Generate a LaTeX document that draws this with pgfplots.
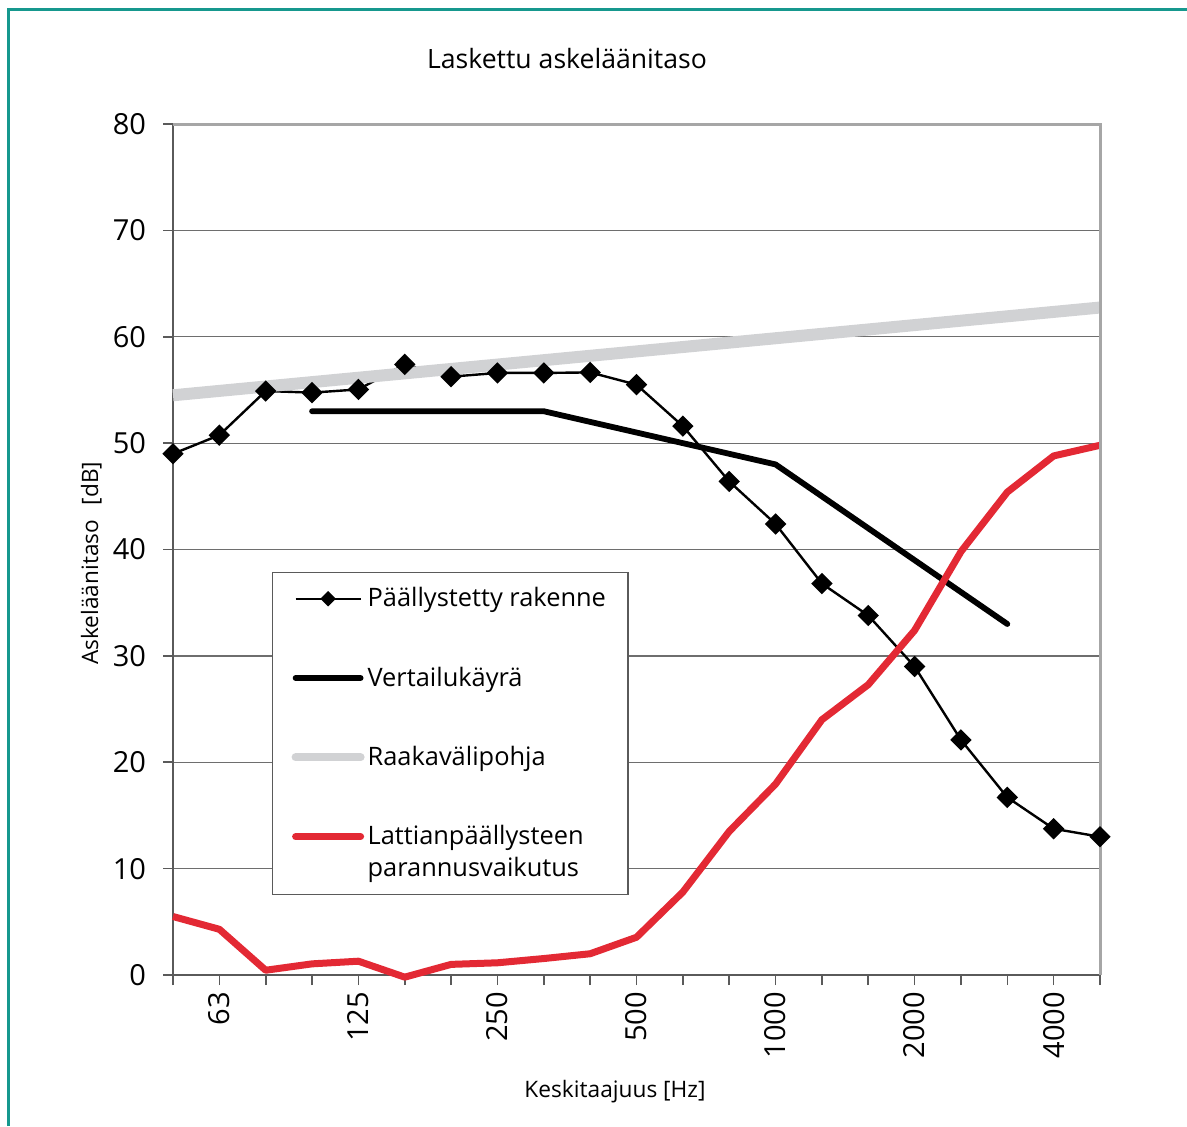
\documentclass[border=0pt]{standalone}
\usepackage{fontspec}
\setmainfont{Open Sans}
\usepackage{pgfplots}
\pgfplotsset{compat=1.18}
\definecolor{teal1}{HTML}{16988E}
\definecolor{redl}{HTML}{E32934}
\definecolor{grayl}{HTML}{D1D2D4}
\definecolor{axisg}{HTML}{5A5A5A}
\definecolor{gridg}{HTML}{6E6E6E}
\definecolor{borderg}{HTML}{A6A6A6}
\pgfplotsset{
  lineleg/.style={legend image code/.code={\draw[##1, line cap=round] (0pt,0pt) -- (32.5pt,0pt);}},
  diamleg/.style={legend image code/.code={\draw[mark repeat=2, mark phase=2, ##1, mark size=3pt] plot coordinates {(0pt,0pt) (16.25pt,0pt) (32.5pt,0pt)};}},
  grayleg/.style={legend image code/.code={\draw[##1, line cap=round, line width=4pt] (0pt,0pt) -- (32.5pt,0pt);}},
  redleg/.style={legend image code/.code={\draw[##1, line cap=round] (0pt,8pt) -- (32.5pt,8pt);}},
}
\begin{document}
\begin{tikzpicture}
\useasboundingbox (0,0) rectangle (593.5pt,-563pt);
\draw[teal1, line width=1.5pt] (4pt,-563pt) -- (4pt,-4.5pt) -- (593.5pt,-4.5pt);
\begin{axis}[
  at={(86.5pt,-487.5pt)}, anchor=south west,
  width=463.5pt, height=425.5pt, scale only axis,
  xmin=0, xmax=20, ymin=0, ymax=80,
  clip=false,
  axis x line*=bottom, axis y line*=left,
  axis line style={draw=axisg, line width=0.8pt},
  xtick={0,...,20},
  xticklabels={,63,,,125,,,250,,,500,,,1000,,,2000,,,4000,},
  ytick={0,10,...,80},
  tick align=outside,
  major tick length=5pt,
  tick style={draw=axisg, line width=0.8pt},
  ymajorgrids,
  grid style={draw=gridg, line width=0.6pt},
  /pgf/number format/assume math mode=true,
  yticklabel style={font=\fontsize{14.5}{16}\selectfont, xshift=-5pt},
  xticklabel style={font=\fontsize{14.5}{16}\selectfont, rotate=90, anchor=east},
  lineleg,
  legend cell align=left,
  legend style={at={(rel axis cs:0.1068,0.4736)}, anchor=north west, draw=axisg, line width=0.6pt,
    font=\fontsize{12.7}{16}\selectfont, inner xsep=9.5pt, inner ysep=5.5pt, row sep=24.5pt,
    cells={align=left}, nodes={inner xsep=1.5pt, inner ysep=2pt}},
]
\addplot[black, line width=1.2pt, mark=diamond*, mark size=4.5pt, mark options={xscale=1.333, solid, fill=black}, diamleg]
coordinates {(0,49.0) (1,50.75) (2,54.9) (3,54.75) (4,55.05) (5,57.4) (6,56.25) (7,56.6) (8,56.6) (9,56.65) (10,55.5)
 (11,51.6) (12,46.4) (13,42.4) (14,36.8) (15,33.8) (16,29.0) (17,22.1) (18,16.7) (19,13.75) (20,13.0)};
\addlegendentry{Päällystetty rakenne}
\addplot[black, line width=2.9pt, line cap=round, line join=round]
coordinates {(3,53) (4,53) (5,53) (6,53) (7,53) (8,53) (9,52) (10,51) (11,50) (12,49) (13,48) (14,45) (15,42) (16,39) (17,36) (18,33)};
\addlegendentry{Vertailukäyrä}
\addplot[grayl, line width=6pt, grayleg]
coordinates {(0,54.5) (20,62.75)};
\addlegendentry{Raakavälipohja}
\addplot[redl, line width=3.5pt, line join=round, redleg]
coordinates {(0,5.5) (1,4.3) (2,0.45) (3,1.05) (4,1.3) (5,-0.2) (6,1.0) (7,1.15) (8,1.55) (9,2.0) (10,3.55)
 (11,7.8) (12,13.5) (13,17.95) (14,24.0) (15,27.3) (16,32.4) (17,39.8) (18,45.4) (19,48.8) (20,49.8)};
\addlegendentry{Lattianpäällysteen\\parannusvaikutus}
\draw[borderg, line width=1.5pt] (rel axis cs:0,1) -- (rel axis cs:1,1) -- (rel axis cs:1,0);
\node[anchor=base, font=\fontsize{13.3}{16}\selectfont] at (rel axis cs:0.425,1.0658) {Laskettu askeläänitaso};
\node[anchor=base, font=\fontsize{11.35}{13}\selectfont] at (rel axis cs:0.4768,-0.1434) {Keskitaajuus [Hz]};
\node[anchor=base, rotate=90, font=\fontsize{11.3}{13}\selectfont] at (rel axis cs:-0.0809,0.484) {Askeläänitaso\hspace{0.4em} [dB]};
\end{axis}
\end{tikzpicture}
\end{document}
